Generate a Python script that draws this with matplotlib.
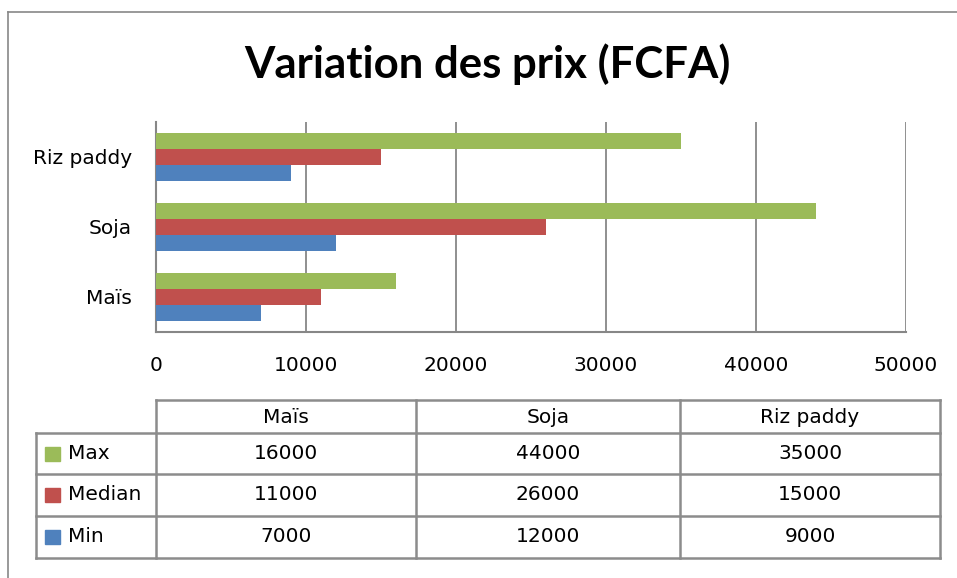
import numpy as np
import matplotlib.pyplot as plt
from matplotlib.lines import Line2D
from matplotlib.patches import Rectangle

#=============================================================================
# data
categories = ['Maïs', 'Soja', 'Riz paddy']
series     = ['Max', 'Median', 'Min']
val_max    = [16000, 44000, 35000]
val_median = [11000, 26000, 15000]
val_min    = [7000, 12000, 9000]
xticks     = [0, 10000, 20000, 30000, 40000, 50000]
title      = 'Variation des prix (FCFA)'

colors     = ['#9BBB59', '#C0504D', '#4F81BD']
GRID       = '#878787'
W, H       = 957, 578

#-----------------------------------------------------------------------------
def fx(px):
    return px / W

def fy(py):
    return 1.0 - py / H

fig = plt.figure(figsize=(W/100.0, H/100.0), dpi=100)
fig.patch.set_facecolor('white')

# outer frame (top and left edges visible)
fig.add_artist(Line2D([fx(8), 1.0], [fy(12), fy(12)], color=GRID, lw=1.2))
fig.add_artist(Line2D([fx(8), fx(8)], [fy(12), 0.0], color=GRID, lw=1.2))

fig.text(fx(487), fy(78), title, ha='center', va='baseline',
         fontsize=31.5, fontweight='bold', family=['Lato', 'DejaVu Sans'])

#-----------------------------------------------------------------------------
# bar chart
ax = fig.add_axes([fx(156), fy(332), fx(906) - fx(156), fy(122) - fy(332)])
y  = np.arange(len(categories))
h  = 0.228
vals = [val_max, val_median, val_min]
for k, (s, v) in enumerate(zip(series, vals)):
    ax.barh(y + (1 - k) * h, v, height=h, color=colors[k], label=s, zorder=3)

ax.set_xlim(0, 50000)
ax.set_ylim(-0.5, len(categories) - 0.5)
ax.set_xticks(xticks)
ax.set_xticklabels([str(t) for t in xticks])
ax.set_yticks(y)
ax.set_yticklabels(categories)
ax.tick_params(length=0, labelsize=14.5, colors='black')
ax.tick_params(axis='x', pad=17.5)
ax.tick_params(axis='y', pad=17.5)
ax.xaxis.grid(True, color=GRID, lw=1.3, zorder=0)
for sp in ['top', 'right']:
    ax.spines[sp].set_visible(False)
for sp in ['left', 'bottom']:
    ax.spines[sp].set_color(GRID)
    ax.spines[sp].set_linewidth(1.5)

#-----------------------------------------------------------------------------
# data table below the chart
tx = [36, 156, 416, 680, 940]
ty = [400, 433, 474, 516, 558]
tab = fig.add_axes([0, 0, 1, 1], facecolor='none')
tab.set_xlim(0, W)
tab.set_ylim(H, 0)
tab.axis('off')
TL = '#8C8C8C'
lw = 1.8
# header row (no corner cell)
tab.plot([tx[1], tx[-1]], [ty[0], ty[0]], color=TL, lw=lw)
for xx in tx[1:]:
    tab.plot([xx, xx], [ty[0], ty[-1]], color=TL, lw=lw)
tab.plot([tx[0], tx[0]], [ty[1], ty[-1]], color=TL, lw=lw)
for yy in ty[1:]:
    tab.plot([tx[0], tx[-1]], [yy, yy], color=TL, lw=lw)

for j, c in enumerate(categories):
    tab.text((tx[j+1] + tx[j+2]) / 2.0, (ty[0] + ty[1]) / 2.0 + 1, c,
             ha='center', va='center', fontsize=14.5)
for i, (s, v) in enumerate(zip(series, vals)):
    yc = (ty[i+1] + ty[i+2]) / 2.0
    tab.add_patch(Rectangle((45, yc - 7), 15, 14, color=colors[i]))
    tab.text(68, yc, s, ha='left', va='center', fontsize=14.5)
    for j in range(len(categories)):
        tab.text((tx[j+1] + tx[j+2]) / 2.0, yc, str(v[j]),
                 ha='center', va='center', fontsize=14.5)

plt.savefig('out.png', dpi=100)
